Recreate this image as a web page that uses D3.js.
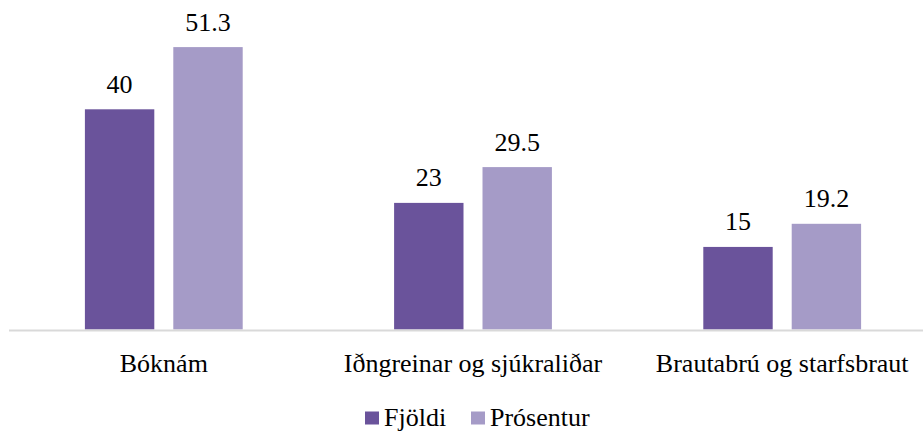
<!DOCTYPE html>
<html>
<head>
<meta charset="utf-8">
<script src="https://cdn.jsdelivr.net/npm/d3@7"></script>
<style>
  html, body { margin: 0; padding: 0; background: #fff; }
</style>
</head>
<body>
<svg id="chart"></svg>
<script>
// Data
const categories = ["Bóknám", "Iðngreinar og sjúkraliðar", "Brautabrú og starfsbraut"];
const seriesNames = ["Fjöldi", "Prósentur"];
const fjoldi = [40, 23, 15];
const prosentur = [51.3, 29.5, 19.2];
const labels = [["40", "51.3"], ["23", "29.5"], ["15", "19.2"]];

const width = 923;
const height = 434;
const colors = ["#6a539b", "#a59bc7"];
const fontFamily = "'Liberation Serif', 'Times New Roman', serif";

const svg = d3.select("#chart")
    .attr("width", width)
    .attr("height", height)
    .style("font-family", fontFamily);

// Scales
const baseY = 329.5;
const yScale = d3.scaleLinear()
    .domain([0, 60])
    .range([baseY, baseY - 60 * 5.505]);

const xScale = d3.scaleBand()
    .domain(categories)
    .range([9.2, 9.2 + 3 * 309.2])
    .padding(0);

const groupWidth = 157.8;
const xInner = d3.scaleBand()
    .domain(seriesNames)
    .range([0, groupWidth])
    .paddingInner(19 / 88.4)
    .paddingOuter(0);

const rows = categories.map((c, i) => ({
    category: c,
    values: [
        { series: seriesNames[0], value: fjoldi[i], label: labels[i][0] },
        { series: seriesNames[1], value: prosentur[i], label: labels[i][1] }
    ]
}));

// Bars
const groups = svg.selectAll(".group")
    .data(rows)
    .enter()
    .append("g")
    .attr("class", "group")
    .attr("transform", d => `translate(${xScale(d.category) + (xScale.bandwidth() - groupWidth) / 2}, 0)`);

groups.selectAll("rect")
    .data(d => d.values)
    .enter()
    .append("rect")
    .attr("x", d => xInner(d.series))
    .attr("y", d => yScale(d.value))
    .attr("width", xInner.bandwidth())
    .attr("height", d => yScale(0) - yScale(d.value))
    .style("fill", (d, i) => colors[i]);

// Value labels
groups.selectAll(".value")
    .data(d => d.values)
    .enter()
    .append("text")
    .attr("class", "value")
    .attr("x", d => xInner(d.series) + xInner.bandwidth() / 2)
    .attr("y", d => yScale(d.value) - 16.5)
    .attr("text-anchor", "middle")
    .style("font-family", fontFamily)
    .style("font-size", "26px")
    .style("fill", "#000")
    .text(d => d.label);

// Baseline
svg.append("line")
    .attr("x1", 9)
    .attr("x2", 923)
    .attr("y1", 330.5)
    .attr("y2", 330.5)
    .style("stroke", "#d9d9d9")
    .style("stroke-width", 2);

// Category axis
const xAxis = d3.axisBottom(xScale).tickSize(0).tickPadding(0);
const axisG = svg.append("g")
    .attr("transform", `translate(0, ${baseY})`)
    .call(xAxis)
    .attr("font-family", fontFamily);
axisG.select(".domain").remove();
axisG.selectAll("text")
    .attr("y", 42.5)
    .attr("dy", null)
    .style("font-size", "26px")
    .style("font-family", fontFamily)
    .style("fill", "#000");

// Legend
const legendItems = [
    { name: seriesNames[0], color: colors[0], x: 365 },
    { name: seriesNames[1], color: colors[1], x: 471 }
];
const legend = svg.selectAll(".legend")
    .data(legendItems)
    .enter()
    .append("g")
    .attr("class", "legend")
    .attr("transform", d => `translate(${d.x}, 0)`);

legend.append("rect")
    .attr("x", 0)
    .attr("y", 411.5)
    .attr("width", 14)
    .attr("height", 13)
    .style("fill", d => d.color);

legend.append("text")
    .attr("x", 19)
    .attr("y", 426)
    .style("font-family", fontFamily)
    .style("font-size", "26px")
    .style("fill", "#000")
    .text(d => d.name);
</script>
</body>
</html>
